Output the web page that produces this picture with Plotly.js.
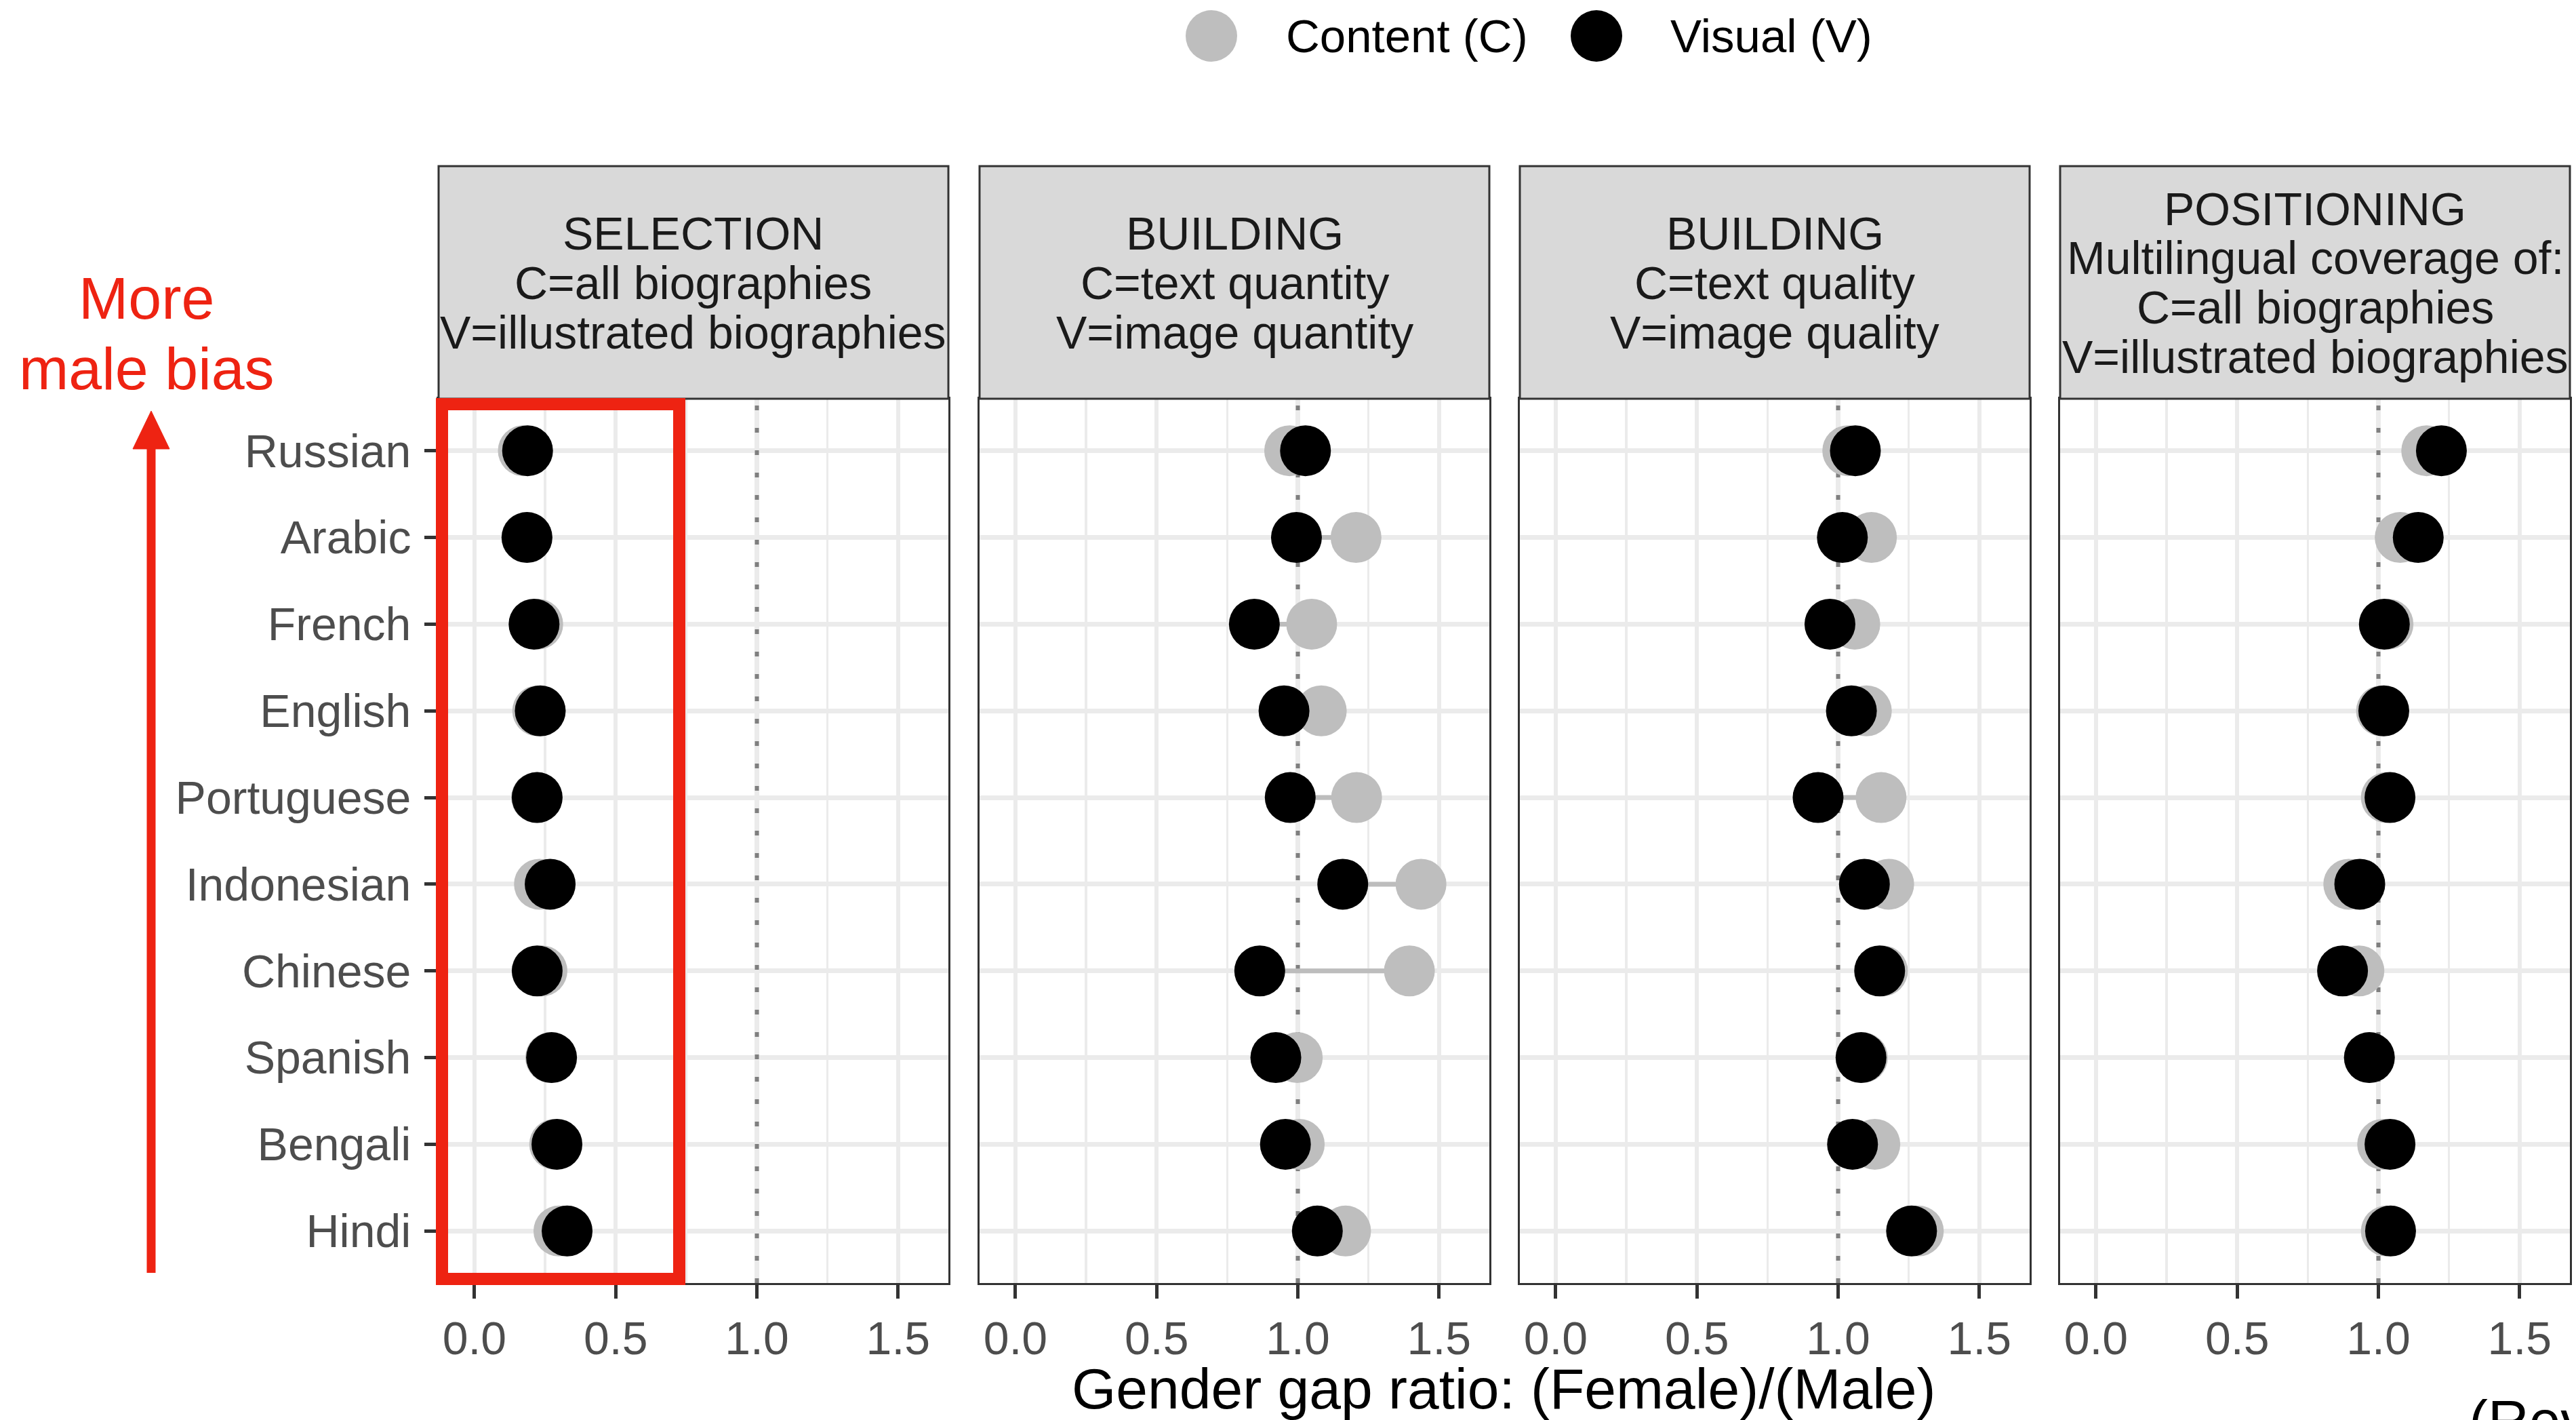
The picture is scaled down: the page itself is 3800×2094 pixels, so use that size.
<!DOCTYPE html>
<html>
<head>
<meta charset="utf-8">
<script src="https://cdn.plot.ly/plotly-3.0.1.min.js"></script>
<style>html,body{margin:0;padding:0;background:#fff;}#chart{width:3800px;height:2094px;}</style>
</head>
<body>
<div id="chart"></div>
<script>
// ---------- DATA ----------
const languages = ["Russian","Arabic","French","English","Portuguese","Indonesian","Chinese","Spanish","Bengali","Hindi"];

const selectionContent  = [0.173, 0.185, 0.224, 0.224, 0.220, 0.230, 0.239, 0.270, 0.284, 0.299];
const selectionVisual   = [0.188, 0.186, 0.211, 0.233, 0.222, 0.268, 0.222, 0.273, 0.292, 0.328];

const quantityContent   = [0.971, 1.206, 1.049, 1.083, 1.208, 1.436, 1.395, 0.998, 1.005, 1.169];
const quantityVisual    = [1.027, 0.995, 0.846, 0.951, 0.973, 1.159, 0.865, 0.922, 0.956, 1.069];

const qualityContent    = [1.034, 1.118, 1.059, 1.100, 1.152, 1.179, 1.157, 1.086, 1.130, 1.284];
const qualityVisual     = [1.061, 1.015, 0.971, 1.047, 0.929, 1.093, 1.147, 1.081, 1.051, 1.260];

const positionContent   = [1.171, 1.077, 1.034, 1.011, 1.028, 0.895, 0.931, 0.968, 1.015, 1.028];
const positionVisual    = [1.223, 1.141, 1.021, 1.019, 1.041, 0.934, 0.873, 0.968, 1.041, 1.043];

const stripTitles = [
  ["SELECTION", "C=all biographies", "V=illustrated biographies"],
  ["BUILDING", "C=text quantity", "V=image quantity"],
  ["BUILDING", "C=text quality", "V=image quality"],
  ["POSITIONING", "Multilingual coverage of:", "C=all biographies", "V=illustrated biographies"]
];

const xTickVals = [0, 0.5, 1, 1.5];
const xTickText = ["0.0", "0.5", "1.0", "1.5"];
const xMinorVals = [0.25, 0.75, 1.25];
const referenceRatio = 1;
const legendLabels = ["Content (C)", "Visual (V)"];
const xAxisTitle = "Gender gap ratio: (Female)/(Male)";
const annotationText = ["More", "male bias"];
const cornerText = "(Rev";

// ---------- LAYOUT HELPERS ----------
const W = 3800, H = 2094;
const px = v => v / W;
const py = v => 1 - v / H;
const FONT = "Liberation Sans, Arial, Helvetica, sans-serif";
const RED = "#ee2312";
const GREY_PT = "#bebebe";

const panelLefts = [647, 1445, 2242, 3039];
const panelWidth = 752;
const plotTop = 588, plotBottom = 1892;
const stripTop = 245;
const xRange = [-0.127, 1.678];
const rowIndex = languages.map((_, k) => k);           // discrete positions of the rows
const yPad = 0.6;                                        // discrete-axis expansion
const yRange = [languages.length - 1 + yPad, -yPad];     // reversed: first language on top

const panels = [
  [selectionContent, selectionVisual],
  [quantityContent, quantityVisual],
  [qualityContent, qualityVisual],
  [positionContent, positionVisual]
];

const data = [];
const layout = {
  width: W, height: H,
  margin: {l: 0, r: 0, t: 0, b: 0, pad: 0},
  paper_bgcolor: "#ffffff",
  plot_bgcolor: "#ffffff",
  showlegend: false,
  font: {family: FONT, color: "#000"},
  shapes: [],
  annotations: []
};

panels.forEach((pair, i) => {
  const n = i === 0 ? "" : String(i + 1);
  const xa = "x" + n, ya = "y" + n;
  const [cVals, vVals] = pair;

  // dotted reference line at ratio 1 spanning the whole panel
  data.push({type: "scatter", mode: "lines", x: [referenceRatio, referenceRatio], y: [yRange[0], yRange[1]],
    xaxis: xa, yaxis: ya, line: {color: "#7f7f7f", width: 6, dash: "7px,26px"}, hoverinfo: "skip"});

  // segments from C to V
  const sx = [], sy = [];
  rowIndex.forEach(k => { sx.push(cVals[k], vVals[k], null); sy.push(k, k, null); });
  data.push({type: "scatter", mode: "lines", x: sx, y: sy, xaxis: xa, yaxis: ya,
    line: {color: "#bdbdbd", width: 7}, hoverinfo: "skip"});
  data.push({type: "scatter", mode: "markers", x: cVals, y: rowIndex, xaxis: xa, yaxis: ya,
    name: legendLabels[0], text: languages, marker: {color: GREY_PT, size: 75, line: {width: 0}}});
  data.push({type: "scatter", mode: "markers", x: vVals, y: rowIndex, xaxis: xa, yaxis: ya,
    name: legendLabels[1], text: languages, marker: {color: "#000000", size: 75, line: {width: 0}}});

  const left = panelLefts[i], right = left + panelWidth;
  layout["xaxis" + n] = {
    domain: [px(left), px(right)], anchor: ya, range: xRange,
    tickmode: "array", tickvals: xTickVals, ticktext: xTickText,
    ticks: "outside", ticklen: 20, tickwidth: 5, tickcolor: "#333333",
    tickfont: {family: FONT, size: 68, color: "#4d4d4d"},
    showgrid: true, gridcolor: "#ebebeb", gridwidth: 6.5,
    minor: {tickmode: "array", tickvals: xMinorVals, showgrid: true, gridcolor: "#ebebeb", gridwidth: 3.5, ticks: ""},
    zeroline: false, showline: true, mirror: true, linecolor: "#333333", linewidth: 3,
    fixedrange: true
  };
  layout["yaxis" + n] = {
    domain: [py(plotBottom), py(plotTop)], anchor: xa,
    range: yRange, tickmode: "array", tickvals: rowIndex, ticktext: languages,
    showticklabels: i === 0,
    ticks: i === 0 ? "outside" : "", ticklen: 18, tickwidth: 5, tickcolor: "#333333",
    tickfont: {family: FONT, size: 68, color: "#4d4d4d"},
    ticklabelstandoff: 6,
    showgrid: true, gridcolor: "#ebebeb", gridwidth: 7,
    zeroline: false, showline: true, mirror: true, linecolor: "#333333", linewidth: 3,
    fixedrange: true
  };

  // strip
  layout.shapes.push({type: "rect", xref: "paper", yref: "paper",
    x0: px(left), x1: px(right), y0: py(plotTop), y1: py(stripTop),
    fillcolor: "#d9d9d9", line: {color: "#333333", width: 3}, layer: "above"});
  const lines = stripTitles[i];
  const ys = lines.length === 3 ? [344, 417, 490] : [308, 380, 453, 526];
  lines.forEach((t, k) => {
    layout.annotations.push({xref: "paper", yref: "paper", x: px(left + panelWidth / 2), y: py(ys[k]),
      xanchor: "center", yanchor: "middle", text: t, showarrow: false,
      font: {family: FONT, size: 68, color: "#1a1a1a"}});
  });
});

// x axis title
layout.annotations.push({xref: "paper", yref: "paper", x: px(2218), y: py(2048), xanchor: "center", yanchor: "middle",
  text: xAxisTitle, showarrow: false, font: {family: FONT, size: 84, color: "#000"}});
// corner text (cut off in the original as well)
layout.annotations.push({xref: "paper", yref: "paper", x: px(3640), y: py(2046), xanchor: "left", yanchor: "top",
  text: cornerText, showarrow: false, font: {family: FONT, size: 84, color: "#000"}});

// legend keys (decorative circles) and labels
layout.shapes.push({type: "circle", xref: "paper", yref: "paper", x0: px(1749), x1: px(1825), y0: py(91), y1: py(15),
  fillcolor: GREY_PT, line: {width: 0}, layer: "above"});
layout.shapes.push({type: "circle", xref: "paper", yref: "paper", x0: px(2317), x1: px(2393), y0: py(91), y1: py(15),
  fillcolor: "#000000", line: {width: 0}, layer: "above"});
layout.annotations.push({xref: "paper", yref: "paper", x: px(1895), y: py(54), xanchor: "left", yanchor: "middle",
  text: legendLabels[0], showarrow: false, font: {family: FONT, size: 69, color: "#000"}});
layout.annotations.push({xref: "paper", yref: "paper", x: px(2462), y: py(54), xanchor: "left", yanchor: "middle",
  text: legendLabels[1], showarrow: false, font: {family: FONT, size: 69, color: "#000"}});

// red annotation text
layout.annotations.push({xref: "paper", yref: "paper", x: px(216), y: py(439), xanchor: "center", yanchor: "middle",
  text: annotationText[0], showarrow: false, font: {family: FONT, size: 88, color: RED}});
layout.annotations.push({xref: "paper", yref: "paper", x: px(216), y: py(543), xanchor: "center", yanchor: "middle",
  text: annotationText[1], showarrow: false, font: {family: FONT, size: 88, color: RED}});

// red arrow
layout.shapes.push({type: "line", xref: "paper", yref: "paper", x0: px(223), x1: px(223), y0: py(1877), y1: py(655),
  line: {color: RED, width: 13}, layer: "above"});
layout.shapes.push({type: "path", xref: "paper", yref: "paper",
  path: `M ${px(223)} ${py(606)} L ${px(196)} ${py(662)} L ${px(250)} ${py(662)} Z`,
  fillcolor: RED, line: {color: RED, width: 1}, layer: "above"});
// red highlight box
layout.shapes.push({type: "rect", xref: "paper", yref: "paper", x0: px(652), x1: px(1002), y0: py(1886), y1: py(596),
  line: {color: RED, width: 18}, fillcolor: "rgba(0,0,0,0)", layer: "above"});

Plotly.newPlot("chart", data, layout, {staticPlot: true, displayModeBar: false});
</script>
</body>
</html>
